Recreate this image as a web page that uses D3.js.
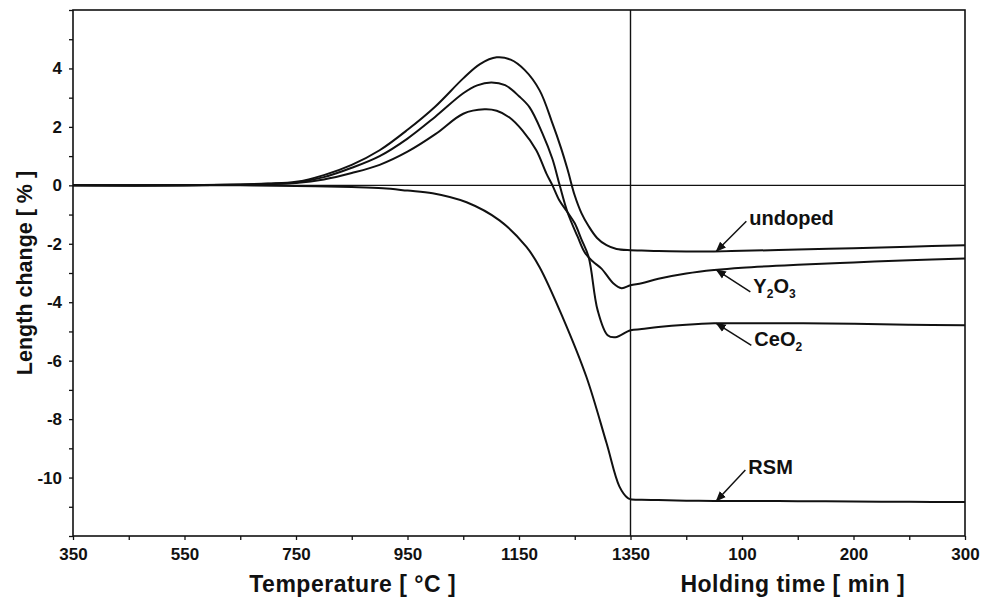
<!DOCTYPE html>
<html>
<head>
<meta charset="utf-8">
<script src="https://cdn.jsdelivr.net/npm/d3@7"></script>
<style>
  body { margin: 0; background: #fff; }
  text { font-family: "Liberation Sans", Arial, sans-serif; font-weight: bold; fill: #111; }
</style>
</head>
<body>
<div id="root"></div>
<script>
// heating part: [temperature °C, length change %]
const heatUndoped = [[350,0],[550,0],[650,0.03],[700,0.06],[750,0.12],[800,0.35],[850,0.7],[900,1.2],[950,1.9],
  [1000,2.7],[1050,3.66],[1080,4.15],[1110,4.38],[1135,4.3],[1160,3.95],[1187,3.25],[1210,2.12],[1225,1.3],
  [1237,0.55],[1250,-0.35],[1262,-0.95],[1275,-1.4],[1290,-1.8],[1307,-2.05],[1325,-2.18],[1350,-2.22]];
const heatY2O3 = [[350,0],[550,0],[650,0.02],[700,0.05],[750,0.1],[800,0.28],[850,0.6],[900,1.0],[950,1.6],
  [1000,2.35],[1050,3.15],[1075,3.42],[1100,3.52],[1125,3.43],[1150,3.05],[1169,2.67],[1192,1.78],[1210,0.9],
  [1223,0],[1237,-0.92],[1255,-1.75],[1268,-2.3],[1282,-2.6],[1298,-2.85],[1319,-3.35],[1334,-3.52],[1350,-3.42]];
const heatCeO2 = [[350,0],[550,0],[650,0.02],[700,0.04],[750,0.08],[800,0.2],[850,0.42],[900,0.7],[950,1.15],
  [1000,1.75],[1050,2.45],[1088,2.6],[1110,2.55],[1133,2.32],[1156,1.88],[1181,1.2],[1199,0.41],[1210,0],
  [1222,-0.5],[1237,-0.92],[1250,-1.3],[1262,-1.85],[1275,-2.46],[1291,-4.27],[1309,-5.13],[1323,-5.2],[1350,-4.96]];
const heatRSM = [[350,0],[550,0],[650,0],[750,-0.02],[850,-0.06],[906,-0.1],[950,-0.18],[995,-0.27],[1056,-0.58],
  [1115,-1.2],[1163,-2.1],[1187,-2.8],[1228,-4.5],[1271,-6.56],[1307,-8.82],[1330,-10.3],[1345,-10.7],[1350,-10.74]];

// holding part at 1350 °C: time in min
const holdTimes = [10, 25, 50, 75, 100, 150, 200, 250, 300];
const holdUndoped = [-2.23, -2.25, -2.26, -2.26, -2.24, -2.2, -2.15, -2.1, -2.05];
const holdY2O3 = [-3.35, -3.2, -3.02, -2.9, -2.82, -2.72, -2.64, -2.56, -2.5];
const holdCeO2 = [-4.92, -4.85, -4.77, -4.72, -4.72, -4.72, -4.74, -4.77, -4.79];
const holdRSM = [-10.76, -10.77, -10.79, -10.8, -10.8, -10.81, -10.82, -10.83, -10.84];

const seriesNames = ['undoped', 'Y2O3', 'CeO2', 'RSM'];
const labelTime = 77; // holding time where the label arrows point

const tempTicks = [350, 550, 750, 950, 1150, 1350];
const timeTicks = [100, 200, 300];
const yTicks = [4, 2, 0, -2, -4, -6, -8, -10];

const margin = { left: 73, right: 16, top: 10, bottom: 74 };
const width = 981 - margin.left - margin.right;
const height = 610 - margin.top - margin.bottom;

// time axis continues the temperature axis: 100 min take the room of 200 °C
const tEnd = 1350;
const timePos = (t) => tEnd + 2 * t;

const x = d3.scaleLinear().domain([350, timePos(300)]).range([0, width]);
const y = d3.scaleLinear().domain([-12, 6]).range([height, 0]);

const svg = d3.select('#root').append('svg')
  .attr('width', 981)
  .attr('height', 610);
const g = svg.append('g')
  .attr('transform', `translate(${margin.left}, ${margin.top})`);

// y axis
const yAxis = d3.axisLeft(y)
  .tickValues(d3.range(-12, 7, 1))
  .tickSize(4)
  .tickFormat((d) => yTicks.includes(d) ? d : '');
g.append('g').call(yAxis)
  .call((a) => a.select('.domain').remove())
  .call((a) => a.selectAll('line').attr('stroke', '#111').attr('stroke-width', 1.3))
  .call((a) => a.selectAll('text').attr('font-size', '17px').attr('x', -11).attr('font-family', '"Liberation Sans", Arial, sans-serif'));

// x axis: major and minor ticks
const xMajor = tempTicks.concat(timeTicks.map(timePos));
const xAxis = d3.axisBottom(x)
  .tickValues(d3.range(350, timePos(300) + 1, 100))
  .tickSize(4)
  .tickFormat((d) => !xMajor.includes(d) ? '' : (d <= tEnd ? d : (d - tEnd) / 2));
g.append('g')
  .attr('transform', `translate(0, ${height})`)
  .call(xAxis)
  .call((a) => a.select('.domain').remove())
  .call((a) => a.selectAll('line').attr('stroke', '#111').attr('stroke-width', 1.3))
  .call((a) => a.selectAll('text').attr('font-size', '17px').attr('y', 12).attr('font-family', '"Liberation Sans", Arial, sans-serif'));

// frame
g.append('rect')
  .attr('width', width)
  .attr('height', height)
  .attr('fill', 'none')
  .attr('stroke', '#111')
  .attr('stroke-width', 1.6);

// zero line and end of heating
g.append('line')
  .attr('x1', 0).attr('x2', width)
  .attr('y1', y(0)).attr('y2', y(0))
  .attr('stroke', '#111').attr('stroke-width', 1.2);
g.append('line')
  .attr('x1', x(tEnd)).attr('x2', x(tEnd))
  .attr('y1', 0).attr('y2', height)
  .attr('stroke', '#111').attr('stroke-width', 1.4);

// curves
const heats = [heatUndoped, heatY2O3, heatCeO2, heatRSM];
const holds = [holdUndoped, holdY2O3, holdCeO2, holdRSM];
const series = seriesNames.map((name, i) => ({
  name,
  points: heats[i].map(([t, v]) => [t, v])
    .concat(holdTimes.map((t, j) => [timePos(t), holds[i][j]]))
}));

const line = d3.line()
  .x((d) => x(d[0]))
  .y((d) => y(d[1]))
  .curve(d3.curveCatmullRom.alpha(0.5));

g.append('g').selectAll('path').data(series)
  .enter().append('path')
    .attr('d', (d) => line(d.points))
    .attr('fill', 'none')
    .attr('stroke', '#111')
    .attr('stroke-width', 2);

// labels with arrows
svg.append('defs').append('marker')
  .attr('id', 'head')
  .attr('viewBox', '0 0 10 10')
  .attr('refX', 9).attr('refY', 5)
  .attr('markerWidth', 7).attr('markerHeight', 7)
  .attr('orient', 'auto')
  .append('path')
    .attr('d', 'M0,1 L10,5 L0,9 Z')
    .attr('fill', '#111');

const labelOffsets = [[33, -27], [37, 22], [38, 22], [32, -28]];
const valueAt = (arr, t) => {
  const i = d3.bisectLeft(holdTimes, t);
  const t0 = holdTimes[i - 1], t1 = holdTimes[i];
  return arr[i - 1] + (arr[i] - arr[i - 1]) * (t - t0) / (t1 - t0);
};

series.forEach((s, i) => {
  const tx = x(timePos(labelTime));
  const ty = y(valueAt(holds[i], labelTime));
  const [dx, dy] = labelOffsets[i];
  g.append('line')
    .attr('x1', tx + dx - 3).attr('y1', ty + dy + (dy < 0 ? -3 : 0))
    .attr('x2', tx).attr('y2', ty)
    .attr('stroke', '#111').attr('stroke-width', 1.5)
    .attr('marker-end', 'url(#head)');
  const label = g.append('text')
    .attr('x', tx + dx)
    .attr('y', ty + dy + 6)
    .attr('font-size', '20px');
  s.name.split(/(\d)/).filter((p) => p).forEach((p) => {
    if (/\d/.test(p)) {
      label.append('tspan').attr('font-size', '12px').attr('dy', 5).text(p);
    } else {
      label.append('tspan').attr('dy', label.selectAll('tspan').size() ? -5 : 0).text(p);
    }
  });
});

// axis titles
g.append('text')
  .attr('x', (x(350) + x(tEnd)) / 2 + 1)
  .attr('y', height + 56)
  .attr('font-size', '23px')
  .attr('letter-spacing', '0.5px')
  .attr('text-anchor', 'middle')
  .text('Temperature [ °C ]');

g.append('text')
  .attr('x', (x(tEnd) + x(timePos(300))) / 2 - 5)
  .attr('y', height + 56)
  .attr('font-size', '23px')
  .attr('letter-spacing', '0.5px')
  .attr('text-anchor', 'middle')
  .text('Holding time [ min ]');

g.append('text')
  .attr('y', -margin.left + 32)
  .attr('x', -height / 2)
  .attr('font-size', '21.5px')
  .attr('text-anchor', 'middle')
  .attr('transform', 'rotate(-90)')
  .text('Length change [ % ]');
</script>
</body>
</html>
